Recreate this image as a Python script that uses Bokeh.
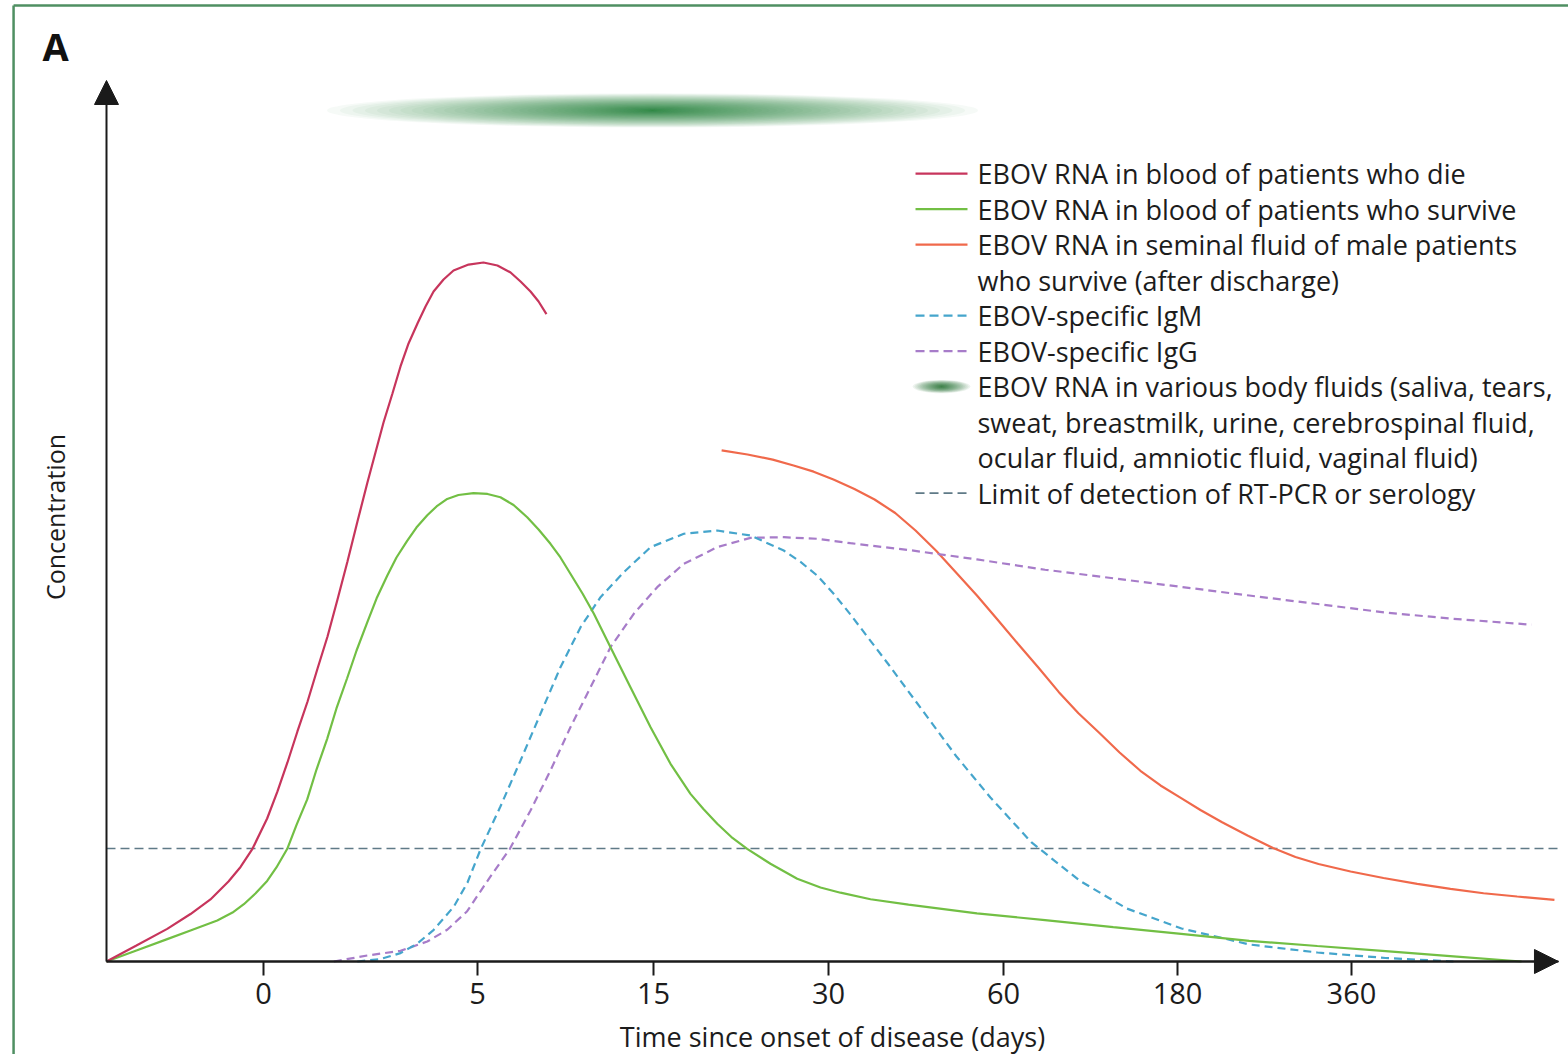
from bokeh.plotting import figure
from bokeh.models import Range1d, FixedTicker, Arrow, NormalHead
from bokeh.core.properties import value
from bokeh.embed import file_html
from bokeh.resources import INLINE

# ---------------- data ----------------
# warped time axis: tick labels (days since onset) and their axis positions
TICK_LABELS = ["0", "5", "15", "30", "60", "180", "360"]
TICK_POS = [0.897, 2.12, 3.126, 4.126, 5.126, 6.12, 7.114]

# EBOV RNA in blood of patients who die
DIE_X = [0.0, 0.171, 0.347, 0.48, 0.594, 0.697, 0.766, 0.834, 0.918, 0.977,
         1.034, 1.091, 1.149, 1.206, 1.263, 1.32, 1.377, 1.434, 1.491, 1.537,
         1.583, 1.634, 1.68, 1.726, 1.777, 1.823, 1.869, 1.926, 1.983, 2.069,
         2.154, 2.234, 2.309, 2.366, 2.423, 2.469, 2.514]
DIE_Y = [0.0, 1.82, 3.7, 5.39, 7.04, 9.08, 10.73, 12.79, 16.23, 19.3,
         22.59, 26.11, 29.51, 33.26, 36.89, 41.09, 45.4, 49.94, 54.37, 57.78,
         61.18, 64.47, 67.54, 70.15, 72.42, 74.35, 76.05, 77.41, 78.43, 79.11,
         79.34, 79.0, 78.21, 77.19, 76.05, 74.91, 73.48]

# EBOV RNA in blood of patients who survive
SURV_X = [0.0, 0.171, 0.347, 0.48, 0.633, 0.72, 0.785, 0.851, 0.918, 0.971,
          1.033, 1.086, 1.147, 1.2, 1.261, 1.314, 1.375, 1.429, 1.49, 1.543,
          1.604, 1.657, 1.718, 1.771, 1.833, 1.886, 1.947, 2.011, 2.097, 2.177,
          2.251, 2.326, 2.404, 2.469, 2.537, 2.594, 2.651, 2.72, 2.785, 2.88,
          2.994, 3.109, 3.223, 3.337, 3.411, 3.49, 3.571, 3.661, 3.794, 3.947,
          4.08, 4.194, 4.366, 4.583, 4.974, 5.363, 5.753, 6.141, 6.53, 6.919,
          7.309, 7.697, 8.086]
SURV_Y = [0.0, 1.25, 2.54, 3.52, 4.65, 5.56, 6.5, 7.72, 9.15, 10.67,
          12.79, 15.51, 18.4, 21.79, 25.27, 28.72, 32.15, 35.3, 38.49, 41.2,
          43.78, 45.86, 47.74, 49.26, 50.65, 51.65, 52.5, 52.95, 53.16, 53.07,
          52.7, 51.82, 50.43, 49.04, 47.41, 45.86, 44.01, 41.77, 39.47, 35.68,
          31.13, 26.59, 22.44, 19.03, 17.31, 15.63, 14.13, 12.79, 11.09, 9.39,
          8.4, 7.81, 7.07, 6.45, 5.47, 4.69, 3.9, 3.13, 2.35, 1.76,
          1.18, 0.59, 0.0]

# EBOV RNA in seminal fluid of male survivors (after discharge)
SEM_X = [3.515, 3.663, 3.807, 3.926, 4.041, 4.154, 4.274, 4.389, 4.507, 4.623,
         4.741, 4.857, 4.974, 5.091, 5.208, 5.326, 5.441, 5.554, 5.674, 5.789,
         5.908, 6.023, 6.141, 6.251, 6.375, 6.52, 6.666, 6.794, 6.926, 7.109,
         7.297, 7.49, 7.68, 7.869, 8.061, 8.274]
SEM_Y = [58.01, 57.55, 56.96, 56.3, 55.6, 54.71, 53.64, 52.44, 50.91, 48.92,
         46.62, 44.1, 41.54, 38.81, 36.07, 33.35, 30.6, 28.18, 25.93, 23.72,
         21.65, 19.98, 18.54, 17.2, 15.8, 14.3, 12.88, 11.86, 11.07, 10.22,
         9.48, 8.82, 8.25, 7.75, 7.38, 7.0]

# EBOV-specific IgM
IGM_X = [1.433, 1.566, 1.68, 1.775, 1.87, 1.985, 2.063, 2.137, 2.251, 2.366,
         2.48, 2.594, 2.709, 2.823, 2.956, 3.109, 3.299, 3.49, 3.68, 3.87,
         3.966, 4.061, 4.154, 4.251, 4.469, 4.663, 4.857, 5.051, 5.286, 5.56,
         5.829, 6.143, 6.531, 6.92, 7.309, 7.697]
IGM_Y = [0.0, 0.28, 0.95, 2.01, 3.6, 6.24, 8.97, 12.71, 17.59, 22.82,
         28.12, 33.4, 37.95, 41.35, 44.19, 47.03, 48.55, 48.92, 48.35, 46.65,
         45.35, 43.81, 41.77, 39.39, 33.71, 28.49, 23.27, 18.62, 13.51, 9.19,
         6.02, 3.75, 1.93, 1.02, 0.4, 0.0]

# EBOV-specific IgG
IGG_X = [1.299, 1.49, 1.68, 1.833, 1.947, 2.061, 2.185, 2.305, 2.423, 2.537,
         2.651, 2.766, 2.88, 3.013, 3.147, 3.299, 3.49, 3.68, 3.87, 4.061,
         4.251, 4.583, 4.974, 5.363, 5.753, 6.141, 6.53, 6.919, 7.309, 7.697, 8.143]
IGG_Y = [0.0, 0.68, 1.21, 2.27, 3.6, 5.71, 9.39, 12.79, 17.14, 21.68,
         26.59, 31.13, 35.68, 39.47, 42.49, 45.14, 47.03, 48.09, 48.16, 47.98,
         47.48, 46.71, 45.64, 44.47, 43.5, 42.52, 41.54, 40.58, 39.6, 38.9, 38.23]

# limit of detection of RT-PCR or serology
LIMIT_Y = 12.83

# EBOV RNA in various body fluids (diffuse band): centre and extent
BLOB_X = 3.12
BLOB_Y = 96.6
BLOB_W = 3.72
BLOB_H = 3.9

LEGEND_LINES = [
    "EBOV RNA in blood of patients who die",
    "EBOV RNA in blood of patients who survive",
    "EBOV RNA in seminal fluid of male patients",
    "who survive (after discharge)",
    "EBOV-specific IgM",
    "EBOV-specific IgG",
    "EBOV RNA in various body fluids (saliva, tears,",
    "sweat, breastmilk, urine, cerebrospinal fluid,",
    "ocular fluid, amniotic fluid, vaginal fluid)",
    "Limit of detection of RT-PCR or serology",
]

# ---------------- styles ----------------
FONT = "Open Sans"
INK = "#1c1c1c"
AXIS = "#1a1a1a"
C_DIE = "#c7355c"
C_SURV = "#72bf44"
C_SEM = "#f0694b"
C_IGM = "#45a5cc"
C_IGG = "#a77cc9"
C_LIM = "#5f7a87"
C_BLOB = "#23782d"
C_FRAME = "#4f8f62"
LW = 2.2

X0, X1 = -0.6057, 8.3543
Y0, Y1 = -10.556, 109.08

p = figure(width=1568, height=1054,
           x_range=Range1d(X0, X1), y_range=Range1d(Y0, Y1),
           min_border=0, min_border_left=0, min_border_right=0,
           min_border_top=0, min_border_bottom=0,
           output_backend="svg", toolbar_location=None)
p.title.visible = False
p.background_fill_color = "white"
p.border_fill_color = "white"
p.outline_line_color = None
p.xgrid.visible = False
p.ygrid.visible = False

# x axis (placed at concentration 0)
xa = p.xaxis[0]
xa.fixed_location = 0
xa.bounds = (0, 8.297)
xa.ticker = FixedTicker(ticks=TICK_POS)
xa.major_label_overrides = dict(zip(TICK_POS, TICK_LABELS))
xa.minor_tick_line_color = None
xa.major_tick_in = 0
xa.major_tick_out = 14
xa.major_tick_line_width = 2
xa.major_tick_line_color = AXIS
xa.axis_line_width = 2
xa.axis_line_color = AXIS
xa.major_label_text_font = FONT
xa.major_label_text_font_size = "29px"
xa.major_label_text_color = INK
xa.major_label_standoff = 7
xa.axis_label = "Time since onset of disease (days)"
xa.axis_label_text_font = FONT
xa.axis_label_text_font_size = "27px"
xa.axis_label_text_font_style = "normal"
xa.axis_label_text_color = INK
xa.axis_label_standoff = 11

# y axis (placed at time position 0)
ya = p.yaxis[0]
ya.fixed_location = 0
ya.bounds = (0, 100.9)
ya.ticker = FixedTicker(ticks=[])
ya.minor_tick_line_color = None
ya.major_tick_out = 0
ya.major_tick_in = 0
ya.axis_line_color = None
ya.axis_label = "Concentration"
ya.axis_label_text_font = FONT
ya.axis_label_text_font_size = "25px"
ya.axis_label_text_font_style = "normal"
ya.axis_label_text_color = INK
ya.axis_label_standoff = 35

# panel frame lines (left and top)
p.segment(x0=[-0.531, -0.531], y0=[Y0, 108.51], x1=[-0.531, X1], y1=[108.51, 108.51],
          line_color=C_FRAME, line_width=2.5)

# panel letter
p.text(x=[-0.366], y=[103.86], text=["A"], text_font=value(FONT), text_font_size="38px",
       text_font_style="bold", text_color="#111111", text_baseline="alphabetic",
       text_align="left")

# diffuse band of body-fluid RNA
N = 50
scales = [((N - k) / N) ** 2 for k in range(N)]
p.ellipse(x=[BLOB_X] * N, y=[BLOB_Y] * N, width=[BLOB_W * s for s in scales],
          height=[BLOB_H * s ** 0.8 for s in scales], fill_color=C_BLOB, fill_alpha=0.04,
          line_color=None)

# limit of detection
p.line([0, 8.3086], [LIMIT_Y, LIMIT_Y], line_color=C_LIM, line_width=1.6, line_dash="9 5")

# curves
p.line(SEM_X, SEM_Y, line_color=C_SEM, line_width=LW)
p.line(IGG_X, IGG_Y, line_color=C_IGG, line_width=LW, line_dash="8 5")
p.line(IGM_X, IGM_Y, line_color=C_IGM, line_width=LW, line_dash="8 5")
p.line(SURV_X, SURV_Y, line_color=C_SURV, line_width=LW)
p.line(DIE_X, DIE_Y, line_color=C_DIE, line_width=LW)

# axis arrows
p.add_layout(Arrow(end=NormalHead(size=24, fill_color=AXIS, line_color=AXIS),
                   x_start=0, y_start=0, x_end=0, y_end=100.0,
                   line_color=AXIS, line_width=2))
p.add_layout(Arrow(end=NormalHead(size=24, fill_color=AXIS, line_color=AXIS),
                   x_start=0, y_start=0, x_end=8.297, y_end=0,
                   line_color=AXIS, line_width=2))

# legend (drawn by hand)
row0 = 89.44
pitch = 4.03
tx = 4.977
sx0, sx1 = 4.623, 4.92
rows_y = [row0 - i * pitch for i in range(len(LEGEND_LINES))]
p.text(x=[tx] * len(LEGEND_LINES), y=rows_y, text=LEGEND_LINES,
       text_font=value(FONT), text_font_size="27px", text_color=INK,
       text_baseline="middle", text_align="left")

p.segment(x0=[sx0], y0=[rows_y[0]], x1=[sx1], y1=[rows_y[0]], line_color=C_DIE, line_width=LW)
p.segment(x0=[sx0], y0=[rows_y[1]], x1=[sx1], y1=[rows_y[1]], line_color=C_SURV, line_width=LW)
p.segment(x0=[sx0], y0=[rows_y[2]], x1=[sx1], y1=[rows_y[2]], line_color=C_SEM, line_width=LW)
p.segment(x0=[sx0], y0=[rows_y[4]], x1=[sx1], y1=[rows_y[4]], line_color=C_IGM, line_width=LW, line_dash="9 5")
p.segment(x0=[sx0], y0=[rows_y[5]], x1=[sx1], y1=[rows_y[5]], line_color=C_IGG, line_width=LW, line_dash="9 5")
p.segment(x0=[sx0], y0=[rows_y[9]], x1=[sx1], y1=[rows_y[9]], line_color=C_LIM, line_width=1.8, line_dash="9 5")

NL = 25
lscales = [((NL - k) / NL) ** 1.6 for k in range(NL)]
lw_blob = 0.33
lh_blob = 1.5
p.ellipse(x=[(sx0 + sx1) / 2] * NL, y=[rows_y[6]] * NL,
          width=[lw_blob * s for s in lscales], height=[lh_blob * s ** 0.8 for s in lscales],
          fill_color=C_BLOB, fill_alpha=0.08, line_color=None)

open("out.html", "w").write(file_html(p, INLINE))
